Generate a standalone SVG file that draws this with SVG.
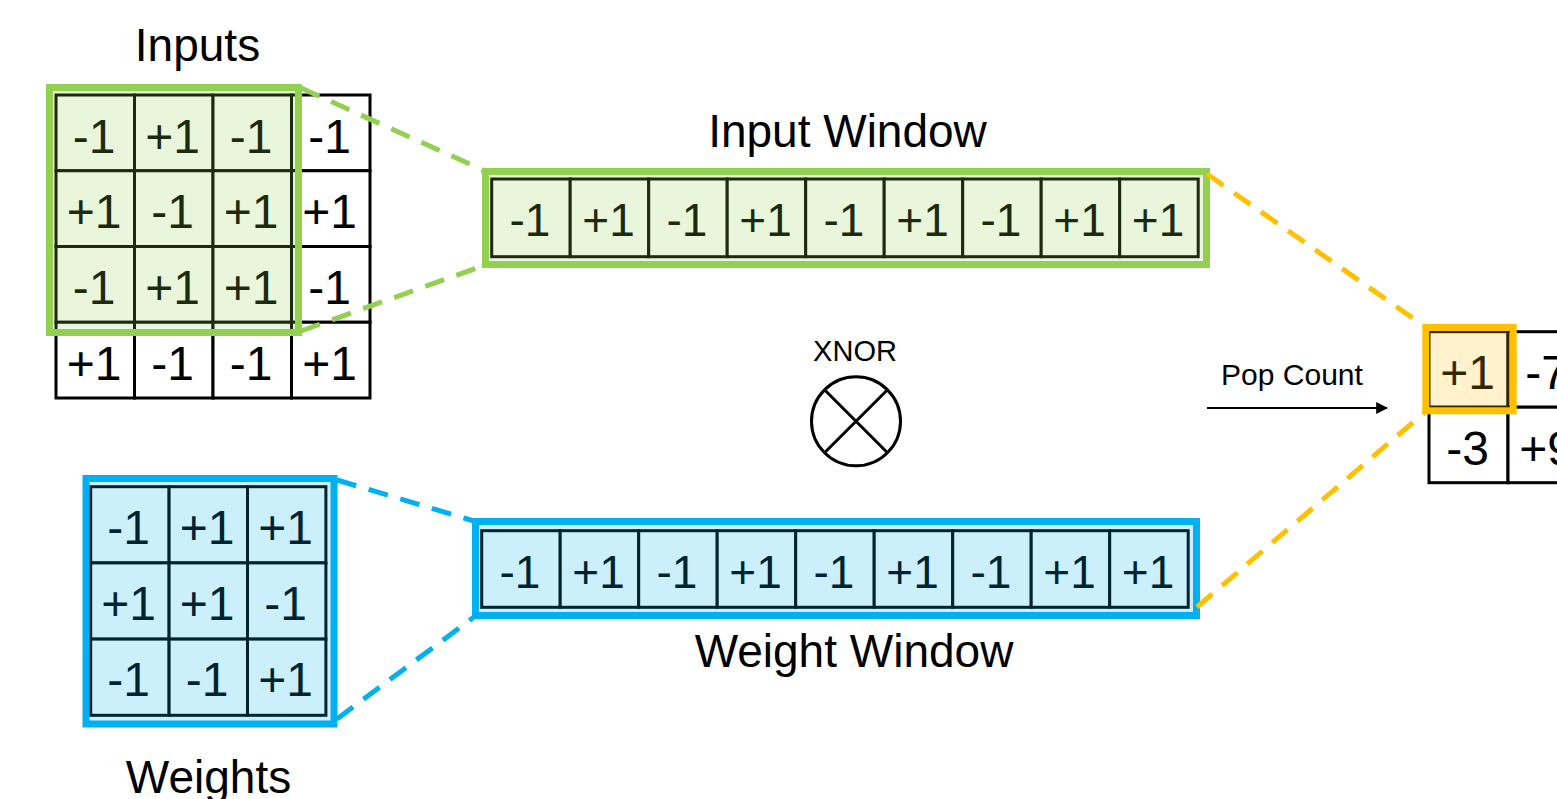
<svg xmlns="http://www.w3.org/2000/svg" width="1557" height="799" viewBox="0 0 1557 799">
  <style>
    text { font-family: "Liberation Sans", Arial, sans-serif; fill: #000; }
    .title { font-size: 46px; text-anchor: middle; }
    .num { font-size: 48px; text-anchor: middle; }
    .wnum { font-size: 46px; text-anchor: middle; }
    .small { font-size: 29px; text-anchor: middle; }
    .cell { fill: #fff; stroke: #000; stroke-width: 3; }
    .hl-green { fill: #92D050; fill-opacity: 0.2; stroke: #92D050; stroke-width: 7; }
    .hl-blue { fill: #00B0F0; fill-opacity: 0.2; stroke: #00B0F0; stroke-width: 7; }
    .hl-orange { fill: #FFC000; fill-opacity: 0.2; stroke: #FFC000; stroke-width: 7; }
    .dash { fill: none; stroke-width: 5; stroke-dasharray: 20 13; }
    .d-green { stroke: #92D050; }
    .d-blue { stroke: #00B0F0; }
    .d-orange { stroke: #FFC000; }
  </style>
  <defs>
    <marker id="arrowhead" viewBox="0 0 10 10" refX="9" refY="5" markerWidth="6" markerHeight="6" orient="auto" markerUnits="strokeWidth">
      <path d="M0,0 L10,5 L0,10 z" fill="#000"/>
    </marker>
  </defs>
  <rect width="1557" height="799" fill="#fff"/>

  <!-- 4x4 input feature map -->
  <g id="inputs">
    <text class="title" x="197.5" y="61">Inputs</text>
    <rect class="cell" x="56" y="95" width="78.5" height="75.75"/>
    <rect class="cell" x="134.5" y="95" width="78.5" height="75.75"/>
    <rect class="cell" x="213" y="95" width="78.5" height="75.75"/>
    <rect class="cell" x="291.5" y="95" width="78.5" height="75.75"/>
    <rect class="cell" x="56" y="170.75" width="78.5" height="75.75"/>
    <rect class="cell" x="134.5" y="170.75" width="78.5" height="75.75"/>
    <rect class="cell" x="213" y="170.75" width="78.5" height="75.75"/>
    <rect class="cell" x="291.5" y="170.75" width="78.5" height="75.75"/>
    <rect class="cell" x="56" y="246.5" width="78.5" height="75.75"/>
    <rect class="cell" x="134.5" y="246.5" width="78.5" height="75.75"/>
    <rect class="cell" x="213" y="246.5" width="78.5" height="75.75"/>
    <rect class="cell" x="291.5" y="246.5" width="78.5" height="75.75"/>
    <rect class="cell" x="56" y="322.25" width="78.5" height="75.75"/>
    <rect class="cell" x="134.5" y="322.25" width="78.5" height="75.75"/>
    <rect class="cell" x="213" y="322.25" width="78.5" height="75.75"/>
    <rect class="cell" x="291.5" y="322.25" width="78.5" height="75.75"/>
    <text class="num" x="94" y="152.5">-1</text>
    <text class="num" x="172.5" y="152.5">+1</text>
    <text class="num" x="251" y="152.5">-1</text>
    <text class="num" x="329.5" y="152.5">-1</text>
    <text class="num" x="94" y="228.3">+1</text>
    <text class="num" x="172.5" y="228.3">-1</text>
    <text class="num" x="251" y="228.3">+1</text>
    <text class="num" x="329.5" y="228.3">+1</text>
    <text class="num" x="94" y="304">-1</text>
    <text class="num" x="172.5" y="304">+1</text>
    <text class="num" x="251" y="304">+1</text>
    <text class="num" x="329.5" y="304">-1</text>
    <text class="num" x="94" y="379.8">+1</text>
    <text class="num" x="172.5" y="379.8">-1</text>
    <text class="num" x="251" y="379.8">-1</text>
    <text class="num" x="329.5" y="379.8">+1</text>
    <rect class="hl-green" x="49.5" y="87.5" width="249" height="245"/>
  </g>

  <!-- flattened input window -->
  <g id="input-window">
    <text class="title" x="847.5" y="147">Input Window</text>
    <rect class="cell" x="491.7" y="179" width="78.5" height="77.7"/>
    <rect class="cell" x="570.2" y="179" width="78.5" height="77.7"/>
    <rect class="cell" x="648.7" y="179" width="78.5" height="77.7"/>
    <rect class="cell" x="727.2" y="179" width="78.5" height="77.7"/>
    <rect class="cell" x="805.7" y="179" width="78.5" height="77.7"/>
    <rect class="cell" x="884.2" y="179" width="78.5" height="77.7"/>
    <rect class="cell" x="962.7" y="179" width="78.5" height="77.7"/>
    <rect class="cell" x="1041.2" y="179" width="78.5" height="77.7"/>
    <rect class="cell" x="1119.7" y="179" width="78.5" height="77.7"/>
    <text class="wnum" x="530" y="236">-1</text>
    <text class="wnum" x="608.5" y="236">+1</text>
    <text class="wnum" x="687" y="236">-1</text>
    <text class="wnum" x="765.5" y="236">+1</text>
    <text class="wnum" x="844" y="236">-1</text>
    <text class="wnum" x="922.5" y="236">+1</text>
    <text class="wnum" x="1001" y="236">-1</text>
    <text class="wnum" x="1079.5" y="236">+1</text>
    <text class="wnum" x="1158" y="236">+1</text>
    <rect class="hl-green" x="485.5" y="171.5" width="721" height="93"/>
  </g>

  <!-- XNOR operator -->
  <g id="xnor">
    <text class="small" x="855" y="361">XNOR</text>
    <circle cx="856" cy="421.3" r="44.5" fill="none" stroke="#000" stroke-width="3"/>
    <line x1="824.5" y1="389.8" x2="887.5" y2="452.8" stroke="#000" stroke-width="3"/>
    <line x1="887.5" y1="389.8" x2="824.5" y2="452.8" stroke="#000" stroke-width="3"/>
  </g>

  <!-- 3x3 weight kernel -->
  <g id="weights">
    <rect class="cell" x="90.7" y="486.7" width="78.4" height="76.2"/>
    <rect class="cell" x="169.1" y="486.7" width="78.4" height="76.2"/>
    <rect class="cell" x="247.5" y="486.7" width="78.4" height="76.2"/>
    <rect class="cell" x="90.7" y="562.9" width="78.4" height="76.2"/>
    <rect class="cell" x="169.1" y="562.9" width="78.4" height="76.2"/>
    <rect class="cell" x="247.5" y="562.9" width="78.4" height="76.2"/>
    <rect class="cell" x="90.7" y="639.1" width="78.4" height="76.2"/>
    <rect class="cell" x="169.1" y="639.1" width="78.4" height="76.2"/>
    <rect class="cell" x="247.5" y="639.1" width="78.4" height="76.2"/>
    <text class="num" x="128.7" y="544">-1</text>
    <text class="num" x="207.1" y="544">+1</text>
    <text class="num" x="285.5" y="544">+1</text>
    <text class="num" x="128.7" y="620.2">+1</text>
    <text class="num" x="207.1" y="620.2">+1</text>
    <text class="num" x="285.5" y="620.2">-1</text>
    <text class="num" x="128.7" y="696.4">-1</text>
    <text class="num" x="207.1" y="696.4">-1</text>
    <text class="num" x="285.5" y="696.4">+1</text>
    <rect class="hl-blue" x="86" y="478.5" width="248" height="245.5"/>
    <text class="title" x="208.5" y="793">Weights</text>
  </g>

  <!-- flattened weight window -->
  <g id="weight-window">
    <rect class="cell" x="481.7" y="530.7" width="78.5" height="76.6"/>
    <rect class="cell" x="560.2" y="530.7" width="78.5" height="76.6"/>
    <rect class="cell" x="638.7" y="530.7" width="78.5" height="76.6"/>
    <rect class="cell" x="717.2" y="530.7" width="78.5" height="76.6"/>
    <rect class="cell" x="795.7" y="530.7" width="78.5" height="76.6"/>
    <rect class="cell" x="874.2" y="530.7" width="78.5" height="76.6"/>
    <rect class="cell" x="952.7" y="530.7" width="78.5" height="76.6"/>
    <rect class="cell" x="1031.2" y="530.7" width="78.5" height="76.6"/>
    <rect class="cell" x="1109.7" y="530.7" width="78.5" height="76.6"/>
    <text class="wnum" x="520" y="588">-1</text>
    <text class="wnum" x="598.5" y="588">+1</text>
    <text class="wnum" x="677" y="588">-1</text>
    <text class="wnum" x="755.5" y="588">+1</text>
    <text class="wnum" x="834" y="588">-1</text>
    <text class="wnum" x="912.5" y="588">+1</text>
    <text class="wnum" x="991" y="588">-1</text>
    <text class="wnum" x="1069.5" y="588">+1</text>
    <text class="wnum" x="1148" y="588">+1</text>
    <rect class="hl-blue" x="475.5" y="521.5" width="721" height="94"/>
    <text class="title" x="854" y="667">Weight Window</text>
  </g>

  <!-- pop count label -->
  <g id="pop-count">
    <text x="1292" y="385" font-size="30" text-anchor="middle">Pop Count</text>
  </g>

  <!-- output feature map -->
  <g id="output">
    <rect class="cell" x="1429" y="331.7" width="79" height="75.5"/>
    <rect class="cell" x="1508" y="331.7" width="79" height="75.5"/>
    <rect class="cell" x="1429" y="407.2" width="79" height="75.5"/>
    <rect class="cell" x="1508" y="407.2" width="79" height="75.5"/>
    <text class="num" x="1467.5" y="389">+1</text>
    <text class="num" x="1546.5" y="389">-7</text>
    <text class="num" x="1467.5" y="464.5">-3</text>
    <text class="num" x="1546.5" y="464.5">+9</text>
    <rect class="hl-orange" x="1425.8" y="327.5" width="87.4" height="83.3"/>
  </g>

  <!-- connectors, drawn over the grids -->
  <g id="connectors">
    <line class="dash d-green" x1="301" y1="88" x2="485" y2="171"/>
    <line class="dash d-green" x1="301" y1="331" x2="485" y2="265"/>
    <line class="dash d-blue" x1="337" y1="480" x2="474" y2="521"/>
    <line class="dash d-blue" x1="337" y1="719" x2="474" y2="617"/>
    <line class="dash d-orange" x1="1207" y1="174" x2="1424" y2="326"/>
    <line class="dash d-orange" x1="1197" y1="607" x2="1424" y2="413"/>
    <line x1="1207" y1="408" x2="1387" y2="408" stroke="#000" stroke-width="2" marker-end="url(#arrowhead)"/>
  </g>
</svg>
